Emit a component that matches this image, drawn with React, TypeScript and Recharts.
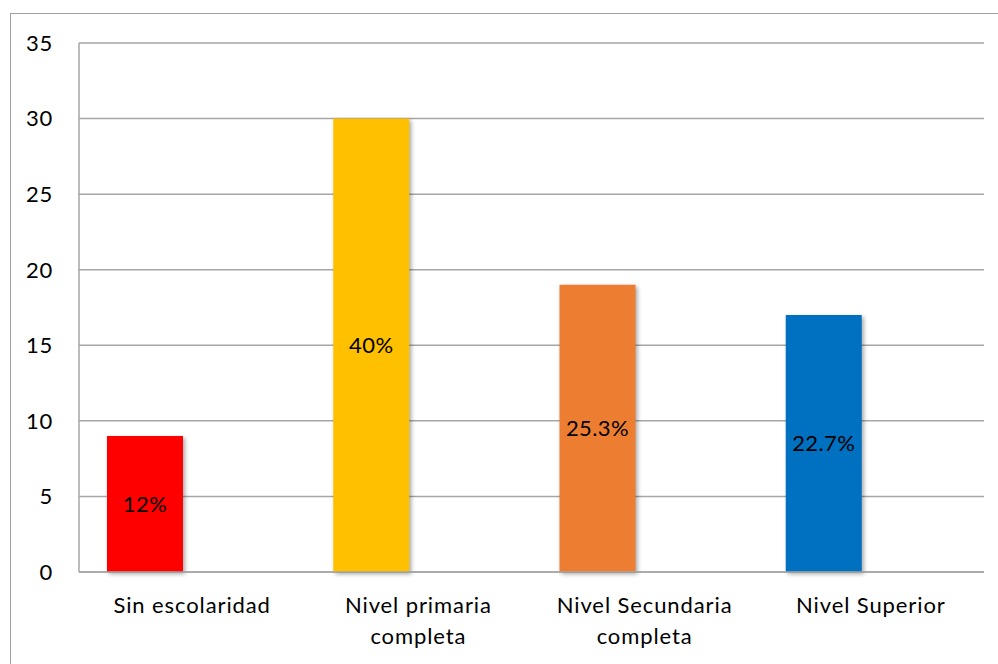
import { BarChart, Bar, XAxis, YAxis, CartesianGrid, LabelList, Cell } from 'recharts';

const categories = ['Sin escolaridad', 'Nivel primaria completa', 'Nivel Secundaria completa', 'Nivel Superior'];
const tickLines = [['Sin escolaridad'], ['Nivel primaria', 'completa'], ['Nivel Secundaria', 'completa'], ['Nivel Superior']];
const values = [9, 30, 19, 17];
const pctLabels = ['12%', '40%', '25.3%', '22.7%'];
const emptySeries = [0, 0, 0, 0];
const yTicks = [0, 5, 10, 15, 20, 25, 30, 35];

const COLORS = ['#FF0000', '#FFC000', '#ED7D31', '#0070C0'];
const FONT = 'Lato, Carlito, Calibri, sans-serif';
const FS = 22;

const data = categories.map((name, i) => ({ name, value: values[i], pct: pctLabels[i], empty: emptySeries[i] }));

const CategoryTick = ({ x, y, index }: any) => {
  const lines = tickLines[index] ?? [];
  return (
    <text x={x} y={y} textAnchor="middle" fill="#000" style={{ fontFamily: FONT, fontSize: FS, letterSpacing: 0.9 }}>
      {lines.map((l, i) => (
        <tspan key={i} x={x} dy={i === 0 ? 21 : 31}>{l}</tspan>
      ))}
    </text>
  );
};

export default function App() {
  return (
    <div style={{ position: 'absolute', left: 0, top: 0, width: 998, height: 664, overflow: 'hidden', background: '#fff' }}>
      <div style={{ position: 'absolute', left: 10, top: 13, width: 1200, height: 900, border: '1.5px solid #a0a0a0' }} />
      <div style={{ position: 'absolute', left: 0, top: 0 }}>
        <BarChart width={998} height={664} data={data} barSize={76} barGap={18}
          margin={{ top: 43, right: 14, bottom: 0, left: 0 }}>
          <CartesianGrid vertical={false} stroke="#a6a6a6" strokeWidth={1.5} />
          <XAxis dataKey="name" height={92} tick={<CategoryTick />} axisLine={{ stroke: '#a6a6a6', strokeWidth: 1.5 }}
            tickLine={false} tickSize={0} tickMargin={20} interval={0} />
          <YAxis width={79} domain={[0, 35]} ticks={yTicks} axisLine={{ stroke: '#a6a6a6', strokeWidth: 1.5 }}
            tickLine={false} tickSize={0} tickMargin={26}
            tick={{ fill: '#000', fontSize: FS, fontFamily: FONT, letterSpacing: 0.8 }} />
          <Bar dataKey="value" isAnimationActive={false}>
            {data.map((_, i) => (
              <Cell key={i} fill={COLORS[i]} style={{ filter: 'drop-shadow(2px 2px 2px rgba(0,0,0,0.35))' }} />
            ))}
            <LabelList dataKey="pct" position="center" fill="#000"
              style={{ fontFamily: FONT, fontSize: FS, letterSpacing: 0.4 }} />
          </Bar>
          <Bar dataKey="empty" isAnimationActive={false} fill="transparent" />
        </BarChart>
      </div>
    </div>
  );
}
